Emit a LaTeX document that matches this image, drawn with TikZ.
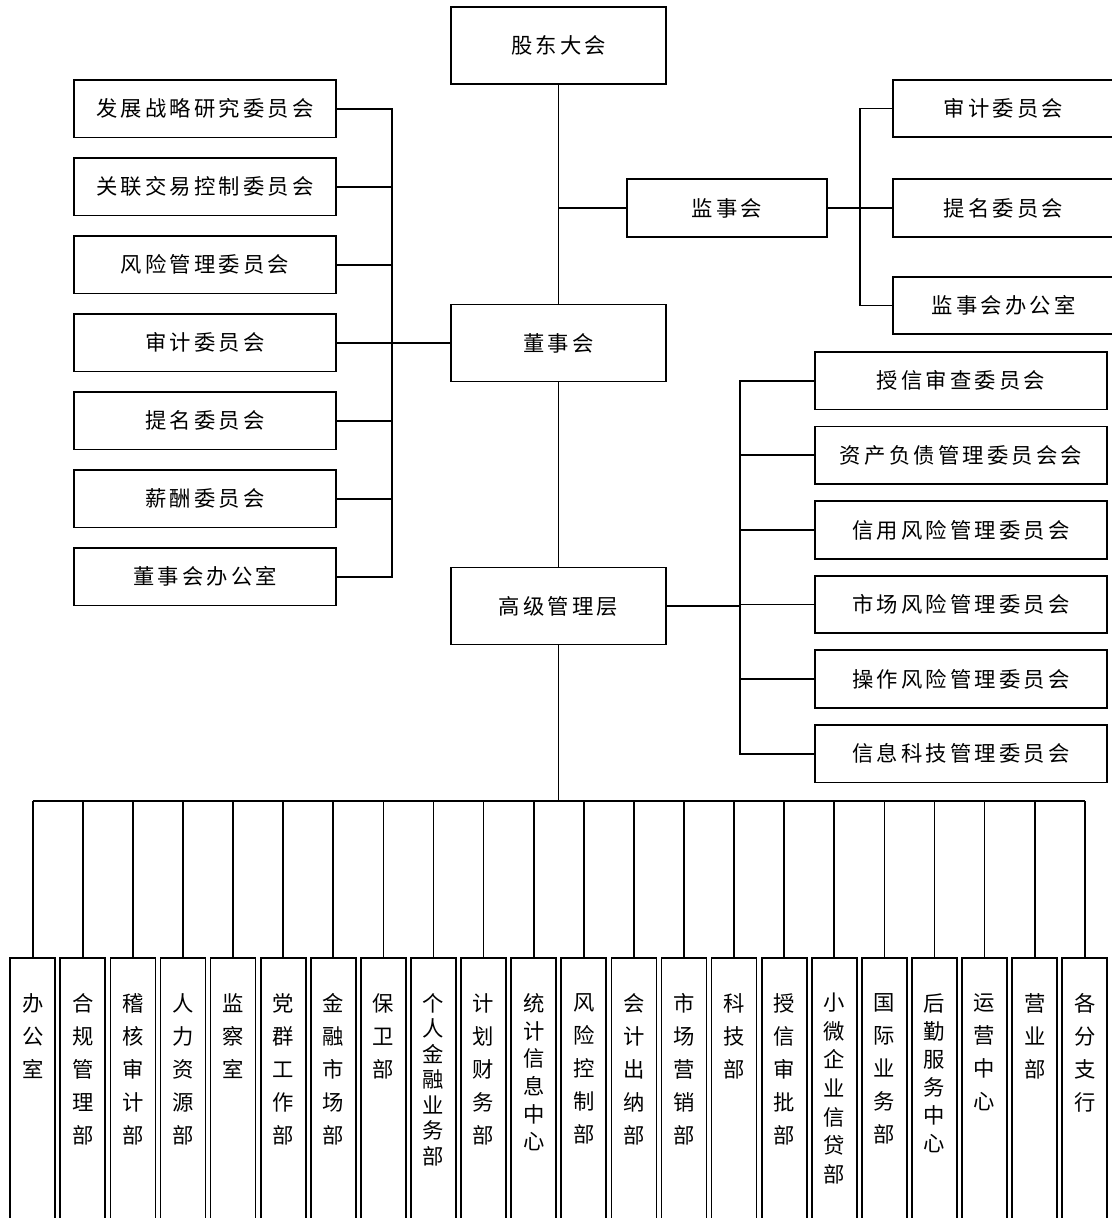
\documentclass[tikz,border=0pt]{standalone}
\usepackage{fontspec}
\newfontfamily\cjk[LetterSpace=15]{Noto Sans CJK SC}
\newfontfamily\cjkv{Noto Sans CJK SC}
\begin{document}
\begin{tikzpicture}[x=0.75pt,y=-0.75pt,
  box/.style={draw, line width=1.3pt, inner sep=0pt, outer sep=0pt,
    font=\cjk\fontsize{16}{19}\selectfont},
  lbox/.style={box, minimum width=262*0.75pt, minimum height=57.5*0.75pt},
  sbox/.style={box, minimum width=292*0.75pt, minimum height=57.5*0.75pt},
  rbox/.style={box, minimum width=221*0.75pt, minimum height=57.5*0.75pt},
  cbox/.style={box, minimum width=215*0.75pt, minimum height=77*0.75pt},
  vbox/.style={draw, line width=1.3pt, inner sep=0pt, outer sep=0pt,
    minimum width=45*0.75pt, minimum height=290*0.75pt, anchor=north},
  vtxt/.style={inner sep=0pt, align=center, anchor=north},
  ln/.style={line width=1.3pt},
  tk/.style={line width=2pt}]
\useasboundingbox (0,0) rectangle (1112,1218);
\clip (0,0) rectangle (1112,1218);

% centre column
\node[cbox] (gd)  at (558.5,45.5) {股东大会};
\node[cbox] (dsh) at (558.5,343) {董事会};
\node[cbox] (gj)  at (558.5,606) {高级管理层};
\node[box, minimum width=200*0.75pt, minimum height=58*0.75pt] (jsh) at (727,208) {监事会};

\draw[ln] (gd.south) -- (dsh.north);
\draw[ln] (jsh.west) -- (jsh.west -| gd.south);
\draw[ln] (dsh.south) -- (gj.north);

% left committees
\foreach \t [count=\k from 0] in {发展战略研究委员会,关联交易控制委员会,风险管理委员会,审计委员会,提名委员会,薪酬委员会,董事会办公室}
  \node[lbox] (L\k) at (205,{108.75+78*\k}) {\t};
\coordinate (lb) at (392,343);
\draw[ln] (L0.east) -| (lb);
\draw[ln] (L6.east) -| (lb);
\foreach \k in {1,...,5} \draw[ln] (L\k.east) -- (L\k.east -| lb);
\draw[tk] (lb) -- (dsh.west);

% supervisory committees
\foreach \t/\y [count=\k from 0] in {审计委员会/108.5,提名委员会/208,监事会办公室/305.5}
  \node[rbox] (R\k) at (1003.5,\y) {\t};
\coordinate (rb) at (860,208);
\draw[tk] (jsh.east) -- (rb);
\draw[ln] (R0.west) -| (rb);
\draw[ln] (R2.west) -| (rb);
\draw[ln] (R1.west) -- (rb);

% management committees
\foreach \t [count=\k from 0] in {授信审查委员会,资产负债管理委员会会,信用风险管理委员会,市场风险管理委员会,操作风险管理委员会,信息科技管理委员会}
  \node[sbox] (S\k) at (961,{380.7+74.6*\k}) {\t};
\coordinate (sb) at (740,606);
\draw[tk] (gj.east) -- (sb);
\draw[ln] (S0.west) -| (sb);
\draw[ln] (S5.west) -| (sb);
\foreach \k in {1,...,4} \draw[ln] (S\k.west) -- (S\k.west -| sb);

% departments
\foreach \t/\s [count=\i from 0] in {办\\公\\室/24.75, 合\\规\\管\\理\\部/24.75, 稽\\核\\审\\计\\部/24.75,
  人\\力\\资\\源\\部/24.75, 监\\察\\室/24.75, 党\\群\\工\\作\\部/24.75, 金\\融\\市\\场\\部/24.75,
  保\\卫\\部/24.75, 个\\人\\金\\融\\业\\务\\部/19.1, 计\\划\\财\\务\\部/24.75, 统\\计\\信\\息\\中\\心/20.8,
  风\\险\\控\\制\\部/24.75, 会\\计\\出\\纳\\部/24.75, 市\\场\\营\\销\\部/24.75, 科\\技\\部/24.75,
  授\\信\\审\\批\\部/24.75, 小\\微\\企\\业\\信\\贷\\部/21.4, 国\\际\\业\\务\\部/24.75,
  后\\勤\\服\\务\\中\\心/21, 运\\营\\中\\心/24.75, 营\\业\\部/24.75, 各\\分\\支\\行/24.75} {
  \coordinate (b\i) at ({32.7+50.1*\i},801);
  \node[vbox] (d\i) at ({32.7+50.1*\i},958) {};
  \node[vtxt, font=\cjkv\fontsize{16}{\s}\selectfont] (t\i) at ({32.7+50.1*\i},993) {\t};
  \draw[ln] (b\i) -- (d\i.north);
}
\draw[tk] (b0) -- (b21);
\draw[ln] (gj.south) -- (gj.south |- b0);
\end{tikzpicture}
\end{document}
